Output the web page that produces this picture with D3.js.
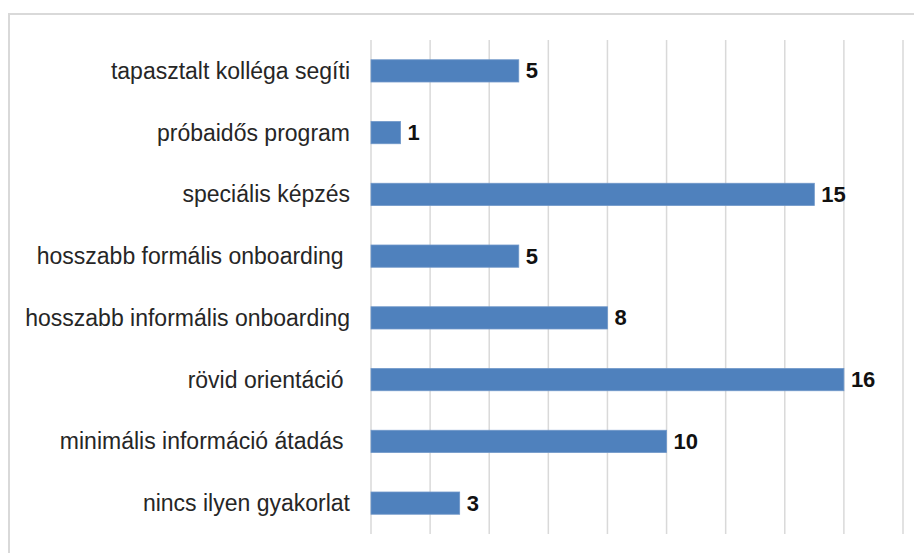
<!DOCTYPE html>
<html>
<head>
<meta charset="utf-8">
<script src="https://cdn.jsdelivr.net/npm/d3@7"></script>
<style>
  html, body { margin: 0; padding: 0; background: #fff; }
  svg { display: block; }
  text { font-family: "Liberation Sans", Arial, sans-serif; }
</style>
</head>
<body>
<div id="chart"></div>
<script>
// Onboarding practices and how many respondents named each one
const categories = [
  "tapasztalt kolléga segíti",
  "próbaidős program",
  "speciális képzés",
  "hosszabb formális onboarding ",
  "hosszabb informális onboarding",
  "rövid orientáció ",
  "minimális információ átadás ",
  "nincs ilyen gyakorlat"
];
const values = [5, 1, 15, 5, 8, 16, 10, 3];
const gridTicks = [0, 2, 4, 6, 8, 10, 12, 14, 16, 18];

const width = 914, height = 553;
const plot = { left: 371, right: 903, top: 40, bottom: 534 };

const svg = d3.select("#chart").append("svg")
  .attr("width", width)
  .attr("height", height);

// chart area frame
svg.append("rect")
  .attr("x", 9).attr("y", 14)
  .attr("width", width + 10).attr("height", height + 10)
  .attr("fill", "#fff")
  .attr("stroke", "#d9d9d9")
  .attr("stroke-width", 2);

const x = d3.scaleLinear().domain([0, 18]).range([plot.left, plot.right]);
const y = d3.scaleBand().domain(categories)
  .range([plot.top, plot.bottom])
  .paddingInner(0.64)
  .paddingOuter(0.32);

// vertical gridlines
svg.append("g").selectAll("line")
  .data(gridTicks)
  .join("line")
  .attr("x1", d => x(d)).attr("x2", d => x(d))
  .attr("y1", plot.top).attr("y2", plot.bottom)
  .attr("stroke", "#d9d9d9")
  .attr("stroke-width", 1.5);

// bars
svg.append("g").selectAll("rect")
  .data(values)
  .join("rect")
  .attr("x", x(0))
  .attr("y", (d, i) => y(categories[i]))
  .attr("width", d => x(d) - x(0))
  .attr("height", y.bandwidth())
  .attr("fill", "#4f81bd")
  .attr("stroke", "#6f97c9")
  .attr("stroke-width", 0.8);

// category labels
svg.append("g").selectAll("text")
  .data(categories)
  .join("text")
  .attr("x", x(0) - 21)
  .attr("y", d => y(d) + y.bandwidth() / 2)
  .attr("text-anchor", "end")
  .attr("dominant-baseline", "central")
  .attr("font-size", 23)
  .attr("fill", "#262626")
  .style("white-space", "pre")
  .text(d => d);

// value labels
svg.append("g").selectAll("text")
  .data(values)
  .join("text")
  .attr("x", d => x(d) + 7)
  .attr("y", (d, i) => y(categories[i]) + y.bandwidth() / 2)
  .attr("dominant-baseline", "central")
  .attr("font-size", 22)
  .attr("font-weight", "bold")
  .attr("fill", "#111")
  .text(d => d);
</script>
</body>
</html>
